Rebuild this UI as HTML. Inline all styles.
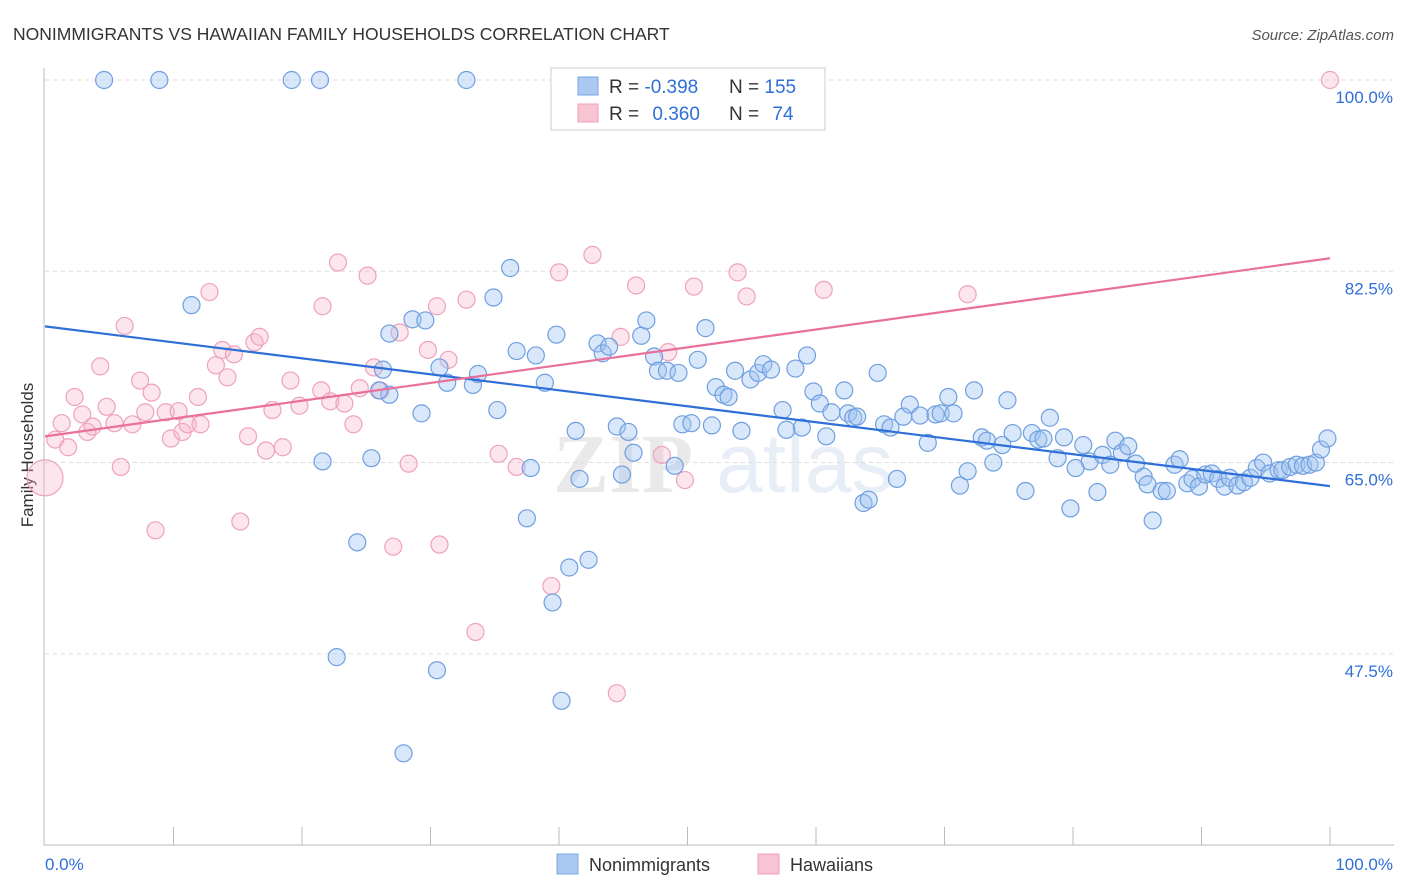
<!DOCTYPE html>
<html><head><meta charset="utf-8">
<style>
body{margin:0;background:#fff;font-family:"Liberation Sans",sans-serif;}
svg{display:block}
</style></head>
<body>
<svg id="chart" width="1406" height="892" viewBox="0 0 1406 892" xmlns="http://www.w3.org/2000/svg">
<text x="13" y="40" font-size="17.5" fill="#333">NONIMMIGRANTS VS HAWAIIAN FAMILY HOUSEHOLDS CORRELATION CHART</text>
<text x="1394" y="40" font-size="15" fill="#555" font-style="italic" text-anchor="end">Source: ZipAtlas.com</text>
<text x="33" y="455" font-size="17" fill="#333" text-anchor="middle" transform="rotate(-90 33 455)">Family Households</text>
<g opacity="0.18">
<text x="553" y="492" font-size="84" font-family="Liberation Serif,serif" fill="#888" font-weight="bold">ZIP</text>
<text x="716" y="492" font-size="84" fill="#7fa6dc">atlas</text>
</g>
<g id="grid"></g>
<g id="axes"></g>
<g id="pinkPts"></g>
<g id="bluePts"></g>
<g id="lines"></g>
<g>
<rect x="551" y="68" width="274" height="62" fill="#fff" stroke="#ccc"/>
<rect x="578" y="77" width="20" height="18" fill="#aac8f2" stroke="#7aa7e0"/>
<rect x="578" y="104" width="20" height="18" fill="#f8c4d4" stroke="#f0a0b8"/>
<text x="609" y="93" font-size="19" fill="#333">R = <tspan fill="#2e6fd8">-0.398</tspan></text>
<text x="729" y="93" font-size="19" fill="#333">N = <tspan fill="#2e6fd8">155</tspan></text>
<text x="609" y="120" font-size="19" fill="#333">R = <tspan fill="#2e6fd8" dx="8">0.360</tspan></text>
<text x="729" y="120" font-size="19" fill="#333">N = <tspan fill="#2e6fd8" dx="8">74</tspan></text>
</g>
<g>
<rect x="557" y="854" width="21" height="20" fill="#aac8f2" stroke="#7aa7e0"/>
<text x="589" y="871" font-size="18" fill="#333">Nonimmigrants</text>
<rect x="758" y="854" width="21" height="20" fill="#f8c4d4" stroke="#f0a0b8"/>
<text x="790" y="871" font-size="18" fill="#333">Hawaiians</text>
</g>
</svg>
<script>
const yTicks=[100,82.5,65,47.5];
const yTickLabels=["100.0%","82.5%","65.0%","47.5%"];
const xTickLabels=["0.0%","100.0%"];
const blueX=[4.6,8.9,19.2,21.4,32.8,11.4,21.6,24.3,22.7,25.4,26.8,26.0,26.8,28.6,29.6,26.3,29.3,30.5,30.7,31.3,33.3,33.7,34.9,35.2,36.2,36.7,38.2,37.8,37.5,38.9,39.5,39.8,40.2,40.8,42.3,27.9,41.3,41.6,43.0,43.4,43.9,44.5,44.9,45.4,45.8,46.4,46.8,47.4,47.7,48.4,49.3,49.0,49.6,50.3,51.4,50.8,51.9,52.2,52.8,53.2,53.7,54.2,54.9,55.5,55.9,56.5,57.4,57.7,58.4,58.9,59.3,59.8,60.3,60.8,61.2,62.2,62.5,62.9,63.2,63.7,64.1,64.8,65.3,65.8,66.3,66.8,67.3,68.1,68.7,69.3,69.7,70.3,70.7,71.2,71.8,72.3,72.9,73.3,73.8,74.5,74.9,75.3,76.3,76.8,77.3,77.7,78.2,78.8,79.3,79.8,80.2,80.8,81.3,81.9,82.3,82.9,83.3,83.8,84.3,84.9,85.5,85.8,86.2,86.9,87.3,87.9,88.3,88.9,89.3,89.8,90.3,90.8,91.3,91.8,92.2,92.8,93.3,93.8,94.3,94.8,95.3,96.0,96.3,96.9,97.4,97.9,98.4,98.9,99.3,99.8];
const blueY=[100,100,100,100,100,79.4,65.1,57.7,47.2,65.4,71.2,71.6,76.8,78.1,78.0,73.5,69.5,46.0,73.7,72.3,72.1,73.1,80.1,69.8,82.8,75.2,74.8,64.5,59.9,72.3,52.2,76.7,43.2,55.4,56.1,38.4,67.9,63.5,75.9,75.0,75.6,68.3,63.9,67.8,65.9,76.6,78.0,74.7,73.4,73.4,73.2,64.7,68.5,68.6,77.3,74.4,68.4,71.9,71.2,71.0,73.4,67.9,72.6,73.2,74.0,73.5,69.8,68.0,73.6,68.2,74.8,71.5,70.4,67.4,69.6,71.6,69.5,69.1,69.2,61.3,61.6,73.2,68.5,68.2,63.5,69.2,70.3,69.3,66.8,69.4,69.5,71.0,69.5,62.9,64.2,71.6,67.3,67.0,65.0,66.6,70.7,67.7,62.4,67.7,67.1,67.2,69.1,65.4,67.3,60.8,64.5,66.6,65.1,62.3,65.7,64.8,67.0,65.9,66.5,64.9,63.7,63.0,59.7,62.4,62.4,64.8,65.3,63.1,63.5,62.8,63.9,64.0,63.5,62.8,63.6,62.9,63.2,63.6,64.5,65.0,64.0,64.3,64.3,64.6,64.8,64.7,64.8,65.0,66.2,67.2];
const pinkX=[0,0.8,1.3,1.8,2.3,2.9,3.3,3.7,4.3,4.8,5.4,5.9,6.2,6.8,7.4,7.8,8.3,8.6,9.4,9.8,10.4,10.7,11.1,11.9,12.1,12.8,13.3,13.8,14.2,14.7,15.2,15.8,16.3,16.7,17.2,17.7,18.5,19.1,19.8,21.6,21.5,22.2,22.8,23.3,24.0,24.5,25.1,25.6,26.1,27.1,27.6,28.3,29.8,30.5,30.7,31.4,32.8,33.5,35.3,36.7,39.4,40.0,42.6,44.5,44.8,46.0,48.0,48.5,49.8,50.5,53.9,54.6,60.6,71.8,100];
const pinkY=[63.6,67.1,68.6,66.4,71.0,69.4,67.8,68.3,73.8,70.1,68.6,64.6,77.5,68.5,72.5,69.6,71.4,58.8,69.6,67.2,69.7,67.8,68.5,71.0,68.5,80.6,73.9,75.3,72.8,74.9,59.6,67.4,76.0,76.5,66.1,69.8,66.4,72.5,70.2,79.3,71.6,70.6,83.3,70.4,68.5,71.8,82.1,73.7,71.6,57.3,76.9,64.9,75.3,79.3,57.5,74.4,79.9,49.5,65.8,64.6,53.7,82.4,84.0,43.9,76.5,81.2,65.7,75.1,63.4,81.1,82.4,80.2,80.8,80.4,100];

const NS="http://www.w3.org/2000/svg";
const X0=45,X1=1330,YTOP=80,PXPER=10.93;
function sx(v){return X0+(X1-X0)*v/100;}
function sy(v){return YTOP+(100-v)*PXPER;}
function mk(tag,attrs,parent){const e=document.createElementNS(NS,tag);for(const k in attrs)e.setAttribute(k,attrs[k]);parent.appendChild(e);return e;}

const grid=document.getElementById('grid');
yTicks.forEach((t,i)=>{
  const l=mk('line',{x1:45,x2:1394,y1:sy(t),y2:sy(t),stroke:'#ddd','stroke-dasharray':'4,4'},grid);
  
  
  const tx=mk('text',{x:1393,y:sy(t)+23,'font-size':17,fill:'#2e6fd8','text-anchor':'end'},grid);
  tx.textContent=yTickLabels[i];
  
  
});
const axes=document.getElementById('axes');
let a=mk('line',{x1:44,x2:44,y1:68,y2:845,stroke:'#bbb'},axes);


a=mk('line',{x1:44,x2:1394,y1:845,y2:845,stroke:'#bbb'},axes);


for(let i=1;i<=10;i++){
  const t=mk('line',{x1:sx(i*10),x2:sx(i*10),y1:827,y2:845,stroke:'#bbb'},axes);
  
  
}
let xl=mk('text',{x:45,y:870,'font-size':17,fill:'#2e6fd8'},axes);xl.textContent=xTickLabels[0];


xl=mk('text',{x:1393,y:870,'font-size':17,fill:'#2e6fd8','text-anchor':'end'},axes);xl.textContent=xTickLabels[1];



function pts(xs,ys,g,fill,stroke,name){
  xs.forEach((x,i)=>{
    const r=(name==='hawaiians-point'&&x===0&&i===0)?18:8.5;
    const c=mk('circle',{cx:sx(x),cy:sy(ys[i]),r:r,fill:fill,stroke:stroke,'stroke-width':1.2},g);
    
    
  });
}
pts(pinkX,pinkY,document.getElementById('pinkPts'),'rgba(246,180,202,0.35)','#eea2bb','hawaiians-point');
pts(blueX,blueY,document.getElementById('bluePts'),'rgba(160,196,242,0.4)','#6f9fdf','nonimmigrants-point');

function reg(xs,ys){const n=xs.length;let mx=0,my=0;for(let i=0;i<n;i++){mx+=xs[i];my+=ys[i];}mx/=n;my/=n;let sxy=0,sxx=0;for(let i=0;i<n;i++){sxy+=(xs[i]-mx)*(ys[i]-my);sxx+=(xs[i]-mx)**2;}const b=sxy/sxx;return [my-b*mx,b];}
const lines=document.getElementById('lines');
[[blueX,blueY,'#2e6fd8','nonimmigrants-trend-line'],[pinkX,pinkY,'#e8709a','hawaiians-trend-line']].forEach(([xs,ys,col,nm])=>{
  const [a0,b]=reg(xs,ys);
  const l=mk('line',{x1:sx(0),y1:sy(a0),x2:sx(100),y2:sy(a0+100*b),stroke:col,'stroke-width':2.2},lines);
  
  
});
</script>
</body></html>
